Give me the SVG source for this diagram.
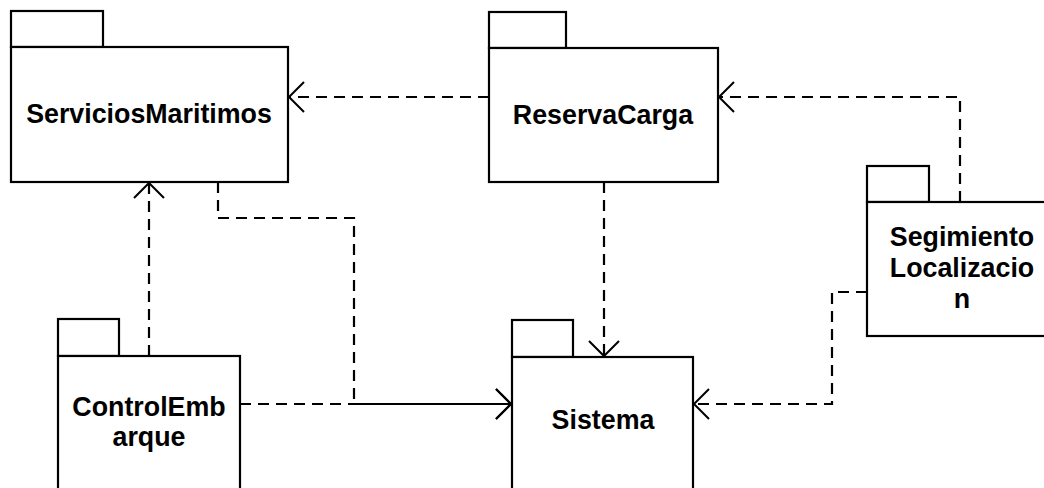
<svg xmlns="http://www.w3.org/2000/svg" width="1044" height="488" viewBox="0 0 1044 488">
  <style>
    .pkg rect { fill: #ffffff; stroke: #000000; stroke-width: 2.2; }
    .label { font-family: "Liberation Sans", Arial, sans-serif; font-size: 26.8px; font-weight: bold; fill: #000000; text-anchor: middle; }
    .dep { fill: none; stroke: #000000; stroke-width: 2.2; stroke-dasharray: 11 7; }
  </style>
  <defs>
    <marker id="open-arrow" markerUnits="userSpaceOnUse" markerWidth="40" markerHeight="40" viewBox="-20 -20 40 40" refX="0" refY="0" orient="auto">
      <path d="M -15 -15 L 0 0 L -15 15" fill="none" stroke="#000000" stroke-width="2"/>
    </marker>
  </defs>
  <rect width="1044" height="488" fill="#ffffff"/>

  <!-- packages -->
  <g id="ServiciosMaritimos" class="pkg">
    <rect x="11" y="11" width="92" height="36"/>
    <rect x="11" y="47" width="277" height="135"/>
    <text class="label" x="149" y="123">ServiciosMaritimos</text>
  </g>

  <g id="ReservaCarga" class="pkg">
    <rect x="489" y="12" width="77" height="36"/>
    <rect x="489" y="48" width="229" height="134"/>
    <text class="label" x="603" y="124">ReservaCarga</text>
  </g>

  <g id="SegimientoLocalizacion" class="pkg">
    <rect x="867" y="166" width="62" height="36"/>
    <rect x="867" y="202" width="190" height="134"/>
    <text class="label" x="962" y="246">Segimiento</text>
    <text class="label" x="962" y="277">Localizacio</text>
    <text class="label" x="962" y="308">n</text>
  </g>

  <g id="ControlEmbarque" class="pkg">
    <rect x="58" y="319" width="61" height="37"/>
    <rect x="58" y="356" width="182" height="140"/>
    <text class="label" x="149" y="416">ControlEmb</text>
    <text class="label" x="149" y="446">arque</text>
  </g>

  <g id="Sistema" class="pkg">
    <rect x="512" y="320" width="61" height="37"/>
    <rect x="512" y="357" width="181" height="140"/>
    <text class="label" x="603" y="429">Sistema</text>
  </g>

  <!-- dependencies -->
  <g id="connectors">
    <path class="dep" d="M 489 97 L 289 97" marker-end="url(#open-arrow)"/>
    <path class="dep" d="M 960 202 L 960 97 L 719 97" marker-end="url(#open-arrow)"/>
    <path class="dep" d="M 604 182 L 604 356" marker-end="url(#open-arrow)"/>
    <path class="dep" d="M 867 292 L 832 292 L 832 404 L 694 404" marker-end="url(#open-arrow)"/>
    <path class="dep" d="M 149 356 L 149 183" marker-end="url(#open-arrow)"/>
    <path class="dep" d="M 240 404 L 511 404" marker-end="url(#open-arrow)"/>
    <path class="dep" d="M 218 182 L 218 218 L 354 218 L 354 404 L 511 404" marker-end="url(#open-arrow)"/>
  </g>
</svg>
